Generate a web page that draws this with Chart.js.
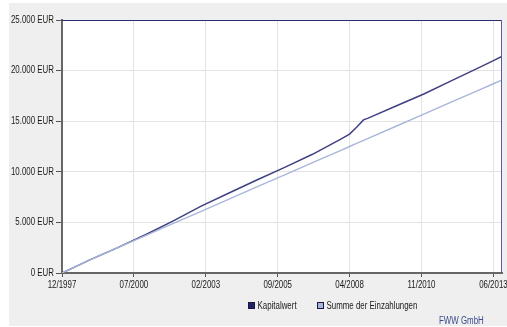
<!DOCTYPE html>
<html><head><meta charset="utf-8">
<script src="https://cdn.jsdelivr.net/npm/chart.js@4.4.1/dist/chart.umd.min.js"></script>
<style>
html,body{margin:0;padding:0;background:#fff;width:507px;height:327px;overflow:hidden}
#wrap{position:absolute;left:9px;top:3px;width:498px;height:323px;background:#efefef}
canvas{display:block}
</style></head><body>
<div id="wrap"><canvas id="c" width="498" height="323"></canvas></div>
<script>
// Sample dates (MM/YYYY) and the two series, in EUR
const pointDates = ['12/1997','12/1998','12/1999','12/2000','12/2001','12/2002','12/2003','12/2004',
  '12/2005','12/2006','12/2007','04/2008','07/2008','10/2008','12/2008','12/2009','12/2010','12/2011',
  '12/2012','06/2013','10/2013'];
const kapitalwert = [0,1290,2510,3780,5150,6610,7910,9190,10440,11730,13200,13720,14400,15130,15300,
  16500,17690,19010,20320,20980,21450];
const einzahlungen = [0,1300,2500,3700,4900,6100,7300,8500,9700,10900,12100,12500,12800,13100,13300,
  14500,15700,16900,18100,18700,19100];

const seriesNames = ['Kapitalwert','Summe der Einzahlungen'];
const seriesColors = ['#3f4182','#a9b6da'];
const legendFills = ['#1f2466','#a9b5d8'];

const xTickDates = ['12/1997','07/2000','02/2003','09/2005','04/2008','11/2010','06/2013'];
const yTickValues = [0,5000,10000,15000,20000,25000];
const yTickLabels = ['0 EUR','5.000 EUR','10.000 EUR','15.000 EUR','20.000 EUR','25.000 EUR'];
const sourceText = 'FWW GmbH';

// narrow sans: Liberation Sans squeezed horizontally
const FONT = "10px 'Liberation Sans', Arial, sans-serif";
const SQUEEZE = 0.79;

// months elapsed since the first date
const origin = pointDates[0].split('/').map(Number);
function monthIndex(d){
  const [m,y] = d.split('/').map(Number);
  return (y*12+m) - (origin[1]*12+origin[0]);
}
const xTickMonths = xTickDates.map(monthIndex);

function narrowText(ctx, text, x, y, align, color){
  ctx.save();
  ctx.font = FONT;
  ctx.fillStyle = color;
  ctx.textBaseline = 'middle';
  ctx.textAlign = align;
  ctx.translate(x, y);
  ctx.scale(SQUEEZE, 1);
  ctx.fillText(text, 0, 0);
  ctx.restore();
}

const frame = {
  id:'frame',
  beforeDraw(chart){
    const {ctx, chartArea:a} = chart;
    ctx.save();
    ctx.fillStyle = '#ffffff';
    ctx.fillRect(a.left, a.top, a.right-a.left, a.bottom-a.top);
    ctx.restore();
  },
  afterDraw(chart){
    const {ctx, chartArea:a} = chart;
    const xs = chart.scales.x, ys = chart.scales.y;
    ctx.save();
    ctx.lineWidth = 1;
    ctx.strokeStyle = '#2c2c70';
    ctx.beginPath(); ctx.moveTo(a.left, a.top+0.5); ctx.lineTo(a.right, a.top+0.5); ctx.stroke();
    ctx.strokeStyle = '#5a5aa8';
    ctx.beginPath(); ctx.moveTo(a.right-0.5, a.top); ctx.lineTo(a.right-0.5, a.bottom); ctx.stroke();
    ctx.restore();

    // axis labels
    yTickValues.forEach((v,i)=>narrowText(ctx, yTickLabels[i], a.left-8, ys.getPixelForValue(v), 'right', '#1a1a1a'));
    xTickMonths.forEach((v,i)=>narrowText(ctx, xTickDates[i], xs.getPixelForValue(v), a.bottom+12, 'center', '#1a1a1a'));

    // legend
    const ly = 303;
    const itemX = [239.5, 308.5];
    seriesNames.forEach((name,i)=>{
      ctx.save();
      ctx.fillStyle = legendFills[i];
      ctx.fillRect(itemX[i], ly-3.5, 6, 6);
      ctx.strokeStyle = '#1a1a40';
      ctx.lineWidth = 1;
      ctx.strokeRect(itemX[i], ly-3.5, 6, 6);
      ctx.restore();
      narrowText(ctx, name, itemX[i]+9, ly, 'left', '#1a1a1a');
    });
    // source
    narrowText(ctx, sourceText, 430, 318, 'left', '#3d4b8c');
  }
};

new Chart(document.getElementById('c'), {
  type:'line',
  data:{
    datasets:[
      {label:seriesNames[1], data:pointDates.map((d,i)=>({x:monthIndex(d), y:einzahlungen[i]})),
       borderColor:seriesColors[1], borderWidth:1.4, pointRadius:0, tension:0},
      {label:seriesNames[0], data:pointDates.map((d,i)=>({x:monthIndex(d), y:kapitalwert[i]})),
       borderColor:seriesColors[0], borderWidth:1.5, pointRadius:0, tension:0}
    ]
  },
  options:{
    responsive:false, animation:false,
    layout:{padding:{top:17, right:5, left:0, bottom:0}},
    plugins:{legend:{display:false}, tooltip:{enabled:false}},
    scales:{
      x:{
        type:'linear', min:0, max:189.7,
        afterBuildTicks(s){ s.ticks = xTickMonths.map(v=>({value:v})); },
        afterFit(s){ s.height = 53; s.paddingLeft = 0; s.paddingRight = 0; },
        grid:{color:'#e3e3e3', tickColor:'#555', tickLength:4, lineWidth:1},
        border:{color:'#666', width:2},
        ticks:{display:false}
      },
      y:{
        min:0, max:25000,
        afterBuildTicks(s){ s.ticks = yTickValues.map(v=>({value:v})); },
        afterFit(s){ s.width = 53; s.paddingTop = 0; s.paddingBottom = 0; },
        grid:{color:'#e3e3e3', tickColor:'#555', tickLength:6, lineWidth:1},
        border:{color:'#666', width:2},
        ticks:{display:false}
      }
    }
  },
  plugins:[frame]
});
</script>
</body></html>
